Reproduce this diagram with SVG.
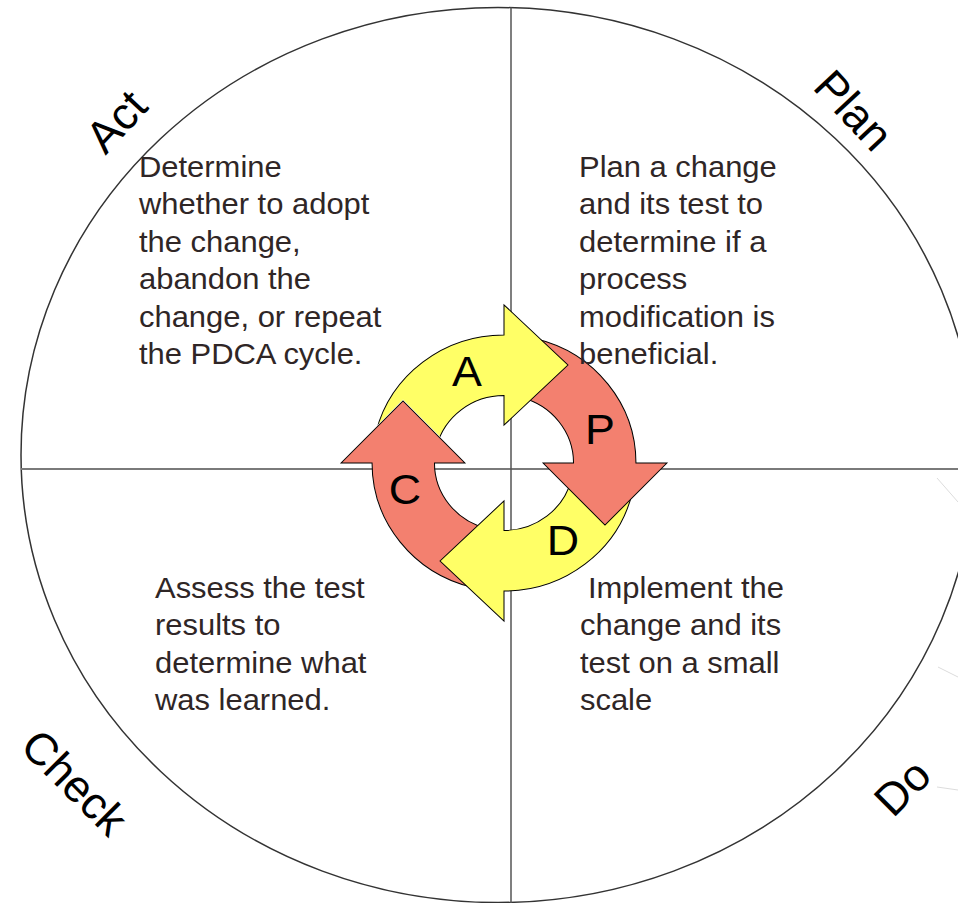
<svg xmlns="http://www.w3.org/2000/svg" xmlns:xlink="http://www.w3.org/1999/xlink" width="958" height="903" viewBox="0 0 958 903">
<style>
.body{font-family:"Liberation Sans",Arial,sans-serif;font-size:29px;fill:#2f2626}
.lab{font-family:"Liberation Sans",Arial,sans-serif;font-size:45px;fill:#000}
.let{font-family:"Liberation Sans",Arial,sans-serif;font-size:42px;fill:#000;text-anchor:middle}
.yel{fill:#FFFF66;stroke:#000;stroke-width:1}
.red{fill:#F3806F;stroke:#000;stroke-width:1}
.faint{stroke:#dcdcdc;stroke-width:1}
</style>
<defs>
<path id="arr" d="M -126.14 -31.45 A 130 130 0 0 1 0 -130 L 0 -160.5 L 63 -99.5 L 0 -38.5 L 0 -68.5 A 68.5 68.5 0 0 0 -66.47 -16.57 Z"/>
<mask id="mA" maskUnits="userSpaceOnUse" x="-300" y="-300" width="600" height="600">
<rect x="-300" y="-300" width="600" height="600" fill="#fff"/>
<polygon points="-160.5,0 -99.5,-63 -38.5,0" fill="#000" stroke="#000" stroke-width="2"/>
</mask>
</defs>
<rect width="958" height="903" fill="#fff"/>
<g id="frame">
<ellipse cx="498" cy="455" rx="477" ry="447.5" fill="none" stroke="#333" stroke-width="1.5"/>
<line class="faint" x1="937" y1="478" x2="958" y2="502"/>
<line class="faint" x1="938" y1="667" x2="958" y2="677"/>
<line class="faint" x1="937" y1="787" x2="958" y2="790"/>
</g>
<g id="connectors">
<line x1="21" y1="469" x2="958" y2="469" stroke="#7a7a7a" stroke-width="2"/>
<line x1="511" y1="7.5" x2="511" y2="903" stroke="#555" stroke-width="1.5"/>
</g>
<g id="cycle" transform="translate(504 463) scale(1.015 0.985)">
<g id="arrow-C"><use xlink:href="#arr" class="red" transform="rotate(270)"/></g>
<g id="arrow-D"><use xlink:href="#arr" class="yel" transform="rotate(180)"/></g>
<g id="arrow-P"><use xlink:href="#arr" class="red" transform="rotate(90)"/></g>
<g id="arrow-A"><use xlink:href="#arr" class="yel" mask="url(#mA)"/></g>
</g>
<g id="cycle-letters">
<text class="let" transform="translate(467 386) scale(1.067 1)">A</text>
<text class="let" transform="translate(600 444) scale(1.067 1)">P</text>
<text class="let" transform="translate(405 504) scale(1.067 1)">C</text>
<text class="let" transform="translate(563 555) scale(1.067 1)">D</text>
</g>
<g id="node-act">
<text class="lab" transform="translate(116 121) rotate(-47)" text-anchor="middle" y="16">Act</text>
<text class="body" transform="translate(139 177) scale(1.067 1)"><tspan x="0" y="0">Determine</tspan><tspan x="0" y="37.5">whether to adopt</tspan><tspan x="0" y="75">the change,</tspan><tspan x="0" y="112.5">abandon the</tspan><tspan x="0" y="150">change, or repeat</tspan><tspan x="0" y="187.5">the PDCA cycle.</tspan></text>
</g>
<g id="node-plan">
<text class="lab" transform="translate(854 110) rotate(47)" text-anchor="middle" y="16">Plan</text>
<text class="body" transform="translate(579 177) scale(1.067 1)"><tspan x="0" y="0">Plan a change</tspan><tspan x="0" y="37.5">and its test to</tspan><tspan x="0" y="75">determine if a</tspan><tspan x="0" y="112.5">process</tspan><tspan x="0" y="150">modification is</tspan><tspan x="0" y="187.5">beneficial.</tspan></text>
</g>
<g id="node-check">
<text class="lab" transform="translate(75 782) rotate(45)" text-anchor="middle" y="16">Check</text>
<text class="body" transform="translate(155 598) scale(1.067 1)"><tspan x="0" y="0">Assess the test</tspan><tspan x="0" y="37.5">results to</tspan><tspan x="0" y="75">determine what</tspan><tspan x="0" y="112.5">was learned.</tspan></text>
</g>
<g id="node-do">
<text class="lab" transform="translate(902 787) rotate(-45)" text-anchor="middle" y="16">Do</text>
<text class="body" transform="translate(580 598) scale(1.067 1)"><tspan x="7.5" y="0">Implement the</tspan><tspan x="0" y="37.5">change and its</tspan><tspan x="0" y="75">test on a small</tspan><tspan x="0" y="112.5">scale</tspan></text>
</g>
</svg>
